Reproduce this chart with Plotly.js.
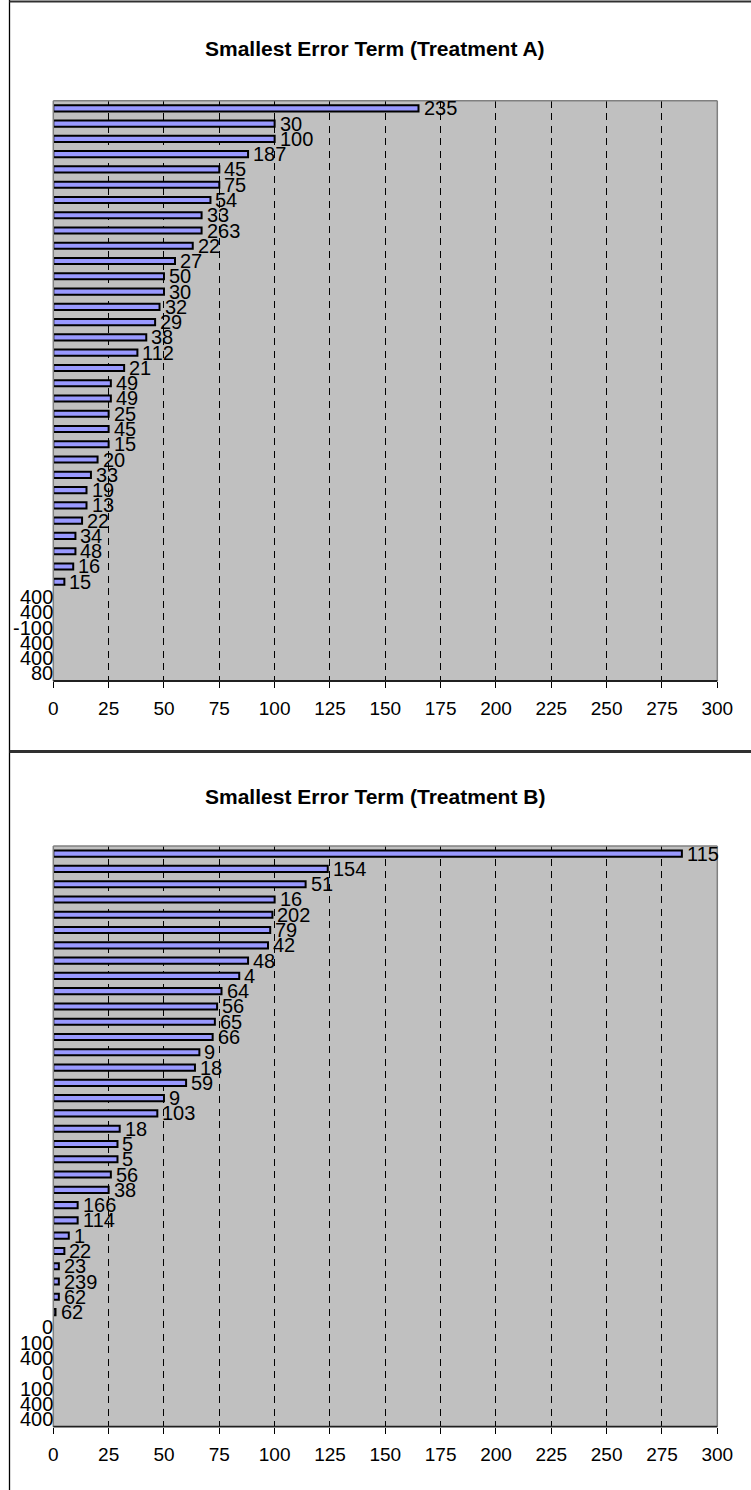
<!DOCTYPE html>
<html>
<head>
<meta charset="utf-8">
<script src="https://cdn.plot.ly/plotly-3.0.1.min.js"></script>
<style>
  html, body { margin: 0; padding: 0; background: #ffffff; }
  #chart { width: 751px; height: 1490px; }
</style>
</head>
<body>
<div id="chart"></div>
<script>
// ---------- data ----------
const titleA = "Smallest Error Term (Treatment A)";
const titleB = "Smallest Error Term (Treatment B)";

const ranks = [1,2,3,4,5,6,7,8,9,10,11,12,13,14,15,16,17,18,19,20,21,22,23,24,25,26,27,28,29,30,31,32,33,34,35,36,37,38];

const valuesA = [165,100,100,88,75,75,71,67,67,63,55,50,50,48,46,42,38,32,26,26,25,25,25,20,17,15,15,13,10,10,9,5,
                 null,null,null,null,null,null];
const labelsA = ["235","30","100","187","45","75","54","33","263","22","27","50","30","32","29","38","112","21","49","49",
                 "25","45","15","20","33","19","13","22","34","48","16","15","400","400","-100","400","400","80"];

const valuesB = [284,124,114,100,99,98,97,88,84,76,74,73,72,66,64,60,50,47,30,29,29,26,25,11,11,7,5,2.5,2.5,2.5,1,
                 null,null,null,null,null,null,null];
const labelsB = ["115","154","51","16","202","79","42","48","4","64","56","65","66","9","18","59","9","103","18","5",
                 "5","56","38","166","114","1","22","23","239","62","62","0","100","400","0","100","400","400"];

const xTicks = [0,25,50,75,100,125,150,175,200,225,250,275,300];

// ---------- layout helpers ----------
const W = 751, H = 1490;
const px = v => v / W;
const py = v => 1 - v / H;
const FONT = "Liberation Sans, Arial, Helvetica, sans-serif";

function barTrace(values, xa, ya) {
  return {
    type: "bar", orientation: "h",
    x: values, y: ranks,
    xaxis: xa, yaxis: ya,
    width: 0.4,
    marker: { color: "#9999FF", line: { color: "#000000", width: 2 } },
    hoverinfo: "skip", showlegend: false
  };
}

function labelAnnotations(values, labels, xa, ya) {
  return labels.map((t, i) => {
    const v = values[i];
    const empty = (v === null);
    return {
      xref: xa, yref: ya,
      x: empty ? 0 : v, y: ranks[i],
      text: t, showarrow: false,
      xanchor: empty ? "right" : "left",
      yanchor: "middle",
      xshift: empty ? 2 : 3,
      font: { family: FONT, size: 20, color: "#000000" }
    };
  });
}

function xAxis(domain, anchor) {
  return {
    domain: domain, anchor: anchor,
    range: [0, 300], tickmode: "array", tickvals: xTicks, ticktext: xTicks.map(String),
    showgrid: true, gridcolor: "#000000", gridwidth: 1, griddash: "7px,5.5px",
    zeroline: false, showline: false,
    ticks: "outside", ticklen: 6, tickwidth: 1, tickcolor: "#000000",
    tickfont: { family: FONT, size: 19, color: "#000000" },
    ticklabelstandoff: 4,
    fixedrange: true
  };
}

function yAxis(domain, anchor) {
  return {
    domain: domain, anchor: anchor,
    range: [38.5, 0.5], showticklabels: false, ticks: "",
    showgrid: false, zeroline: false, showline: false, fixedrange: true
  };
}

const xDom = [px(53.3), px(717.3)];
const yDomA = [py(681), py(100.7)];
const yDomB = [py(1426.7), py(846)];

function plotFrame(xa, ya) {
  const xd = xa + " domain", yd = ya + " domain";
  return [
    { type: "line", xref: xd, yref: yd, x0: 0, x1: 1, y0: 1, y1: 1, line: { color: "#808080", width: 1.5 }, layer: "above" },
    { type: "line", xref: xd, yref: yd, x0: 1, x1: 1, y0: 0, y1: 1, line: { color: "#808080", width: 1.5 }, layer: "above" },
    { type: "line", xref: xd, yref: yd, x0: 0, x1: 0, y0: 0, y1: 1, line: { color: "#808080", width: 1.5 }, layer: "above" },
    { type: "line", xref: xd, yref: yd, x0: 0, x1: 1, y0: 0, y1: 0, line: { color: "#202020", width: 1.8 }, layer: "above" }
  ];
}

const pageFrame = [
  { type: "line", xref: "paper", yref: "paper", x0: px(9.5), x1: px(9.5), y0: 0, y1: 1, line: { color: "#000000", width: 1.3 } },
  { type: "line", xref: "paper", yref: "paper", x0: px(9.5), x1: 1, y0: py(1.5), y1: py(1.5), line: { color: "#303030", width: 2 } },
  { type: "line", xref: "paper", yref: "paper", x0: px(9.5), x1: 1, y0: py(751.5), y1: py(751.5), line: { color: "#303030", width: 3 } }
];

const titles = [
  { xref: "paper", yref: "paper", x: px(375), y: py(49), text: "<b>" + titleA + "</b>", showarrow: false,
    xanchor: "center", yanchor: "middle", font: { family: FONT, size: 21, color: "#000000" } },
  { xref: "paper", yref: "paper", x: px(375), y: py(796), text: "<b>" + titleB + "</b>", showarrow: false,
    xanchor: "center", yanchor: "middle", font: { family: FONT, size: 21, color: "#000000" } }
];

const data = [barTrace(valuesA, "x", "y"), barTrace(valuesB, "x2", "y2")];

const layout = {
  width: W, height: H,
  margin: { l: 0, r: 0, t: 0, b: 0, pad: 0 },
  paper_bgcolor: "#ffffff",
  plot_bgcolor: "#C0C0C0",
  font: { family: FONT, size: 19, color: "#000000" },
  showlegend: false,
  xaxis: xAxis(xDom, "y"),
  yaxis: yAxis(yDomA, "x"),
  xaxis2: xAxis(xDom, "y2"),
  yaxis2: yAxis(yDomB, "x2"),
  shapes: pageFrame.concat(plotFrame("x", "y"), plotFrame("x2", "y2")),
  annotations: titles.concat(labelAnnotations(valuesA, labelsA, "x", "y"),
                             labelAnnotations(valuesB, labelsB, "x2", "y2"))
};

Plotly.newPlot("chart", data, layout, { staticPlot: true, displayModeBar: false });
</script>
</body>
</html>
